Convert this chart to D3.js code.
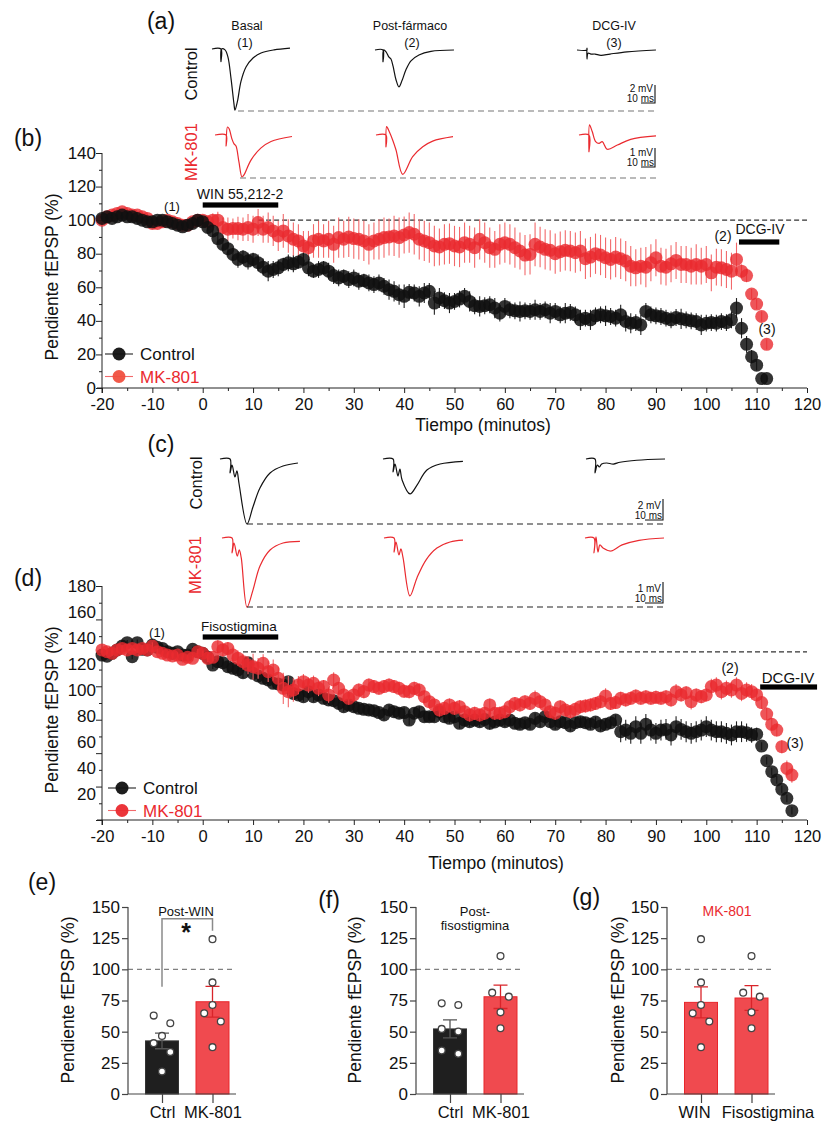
<!DOCTYPE html>
<html>
<head>
<meta charset="utf-8">
<script src="https://cdn.jsdelivr.net/npm/d3@7"></script>
<style>
  body { margin: 0; background: #fff; }
  text { font-family: "Liberation Sans", Arial, Helvetica, sans-serif; fill: #111; }
</style>
</head>
<body>
<svg id="fig" width="827" height="1124"></svg>
<script>
// ---------- data ----------
// example sweeps, [ms, mV] relative to the pre-stimulus baseline
var ctrlA1 = [[0,0],[6.4,0],[6.4,-1.4],[6.8,0],[9.3,-0.1],[11.4,-0.9],[13.6,-3.3],[15.7,-6.1],[16.4,-6.8],[18.2,-5.8],[20.7,-3.6],[24.3,-2.0],[29.3,-1.0],[35,-0.45],[44.3,-0.1],[55.7,0.1]];
var ctrlA2 = [[0,0],[5.7,0],[5.7,-1.3],[6.1,0],[7.9,-0.2],[10,-0.8],[11.4,-1],[12.9,-1.8],[15,-3.3],[17.1,-4.1],[19.3,-3.4],[22.1,-2.2],[25.7,-1.2],[31.4,-0.55],[40,-0.15],[56.4,0]];
var ctrlA3 = [[0,0],[7.1,0],[7.1,0.2],[7.1,-1],[7.9,-0.35],[10,-0.45],[12.9,-0.45],[17.1,-0.6],[23.6,-0.45],[35.7,-0.2],[56.4,0]];
var mkA1 = [[0,0],[7.9,0],[7.9,-0.58],[8.9,0.42],[10,0.34],[12.1,-0.21],[13.6,-0.47],[15,-0.58],[17.1,-1.42],[19.3,-2.21],[20.7,-2.1],[25.7,-1.32],[32.9,-0.68],[40,-0.34],[55,-0.08]];
var mkA2 = [[0,0],[7.1,0],[7.1,-0.62],[7.6,0.44],[9.5,0.17],[11.9,-0.26],[14.3,-0.79],[19.1,-2.07],[26.2,-1.14],[33.4,-0.62],[40.5,-0.32],[55,-0.09]];
var mkA3 = [[0,0],[7.1,0],[7.1,-0.88],[7.5,0.53],[9.5,0.17],[11.9,-0.35],[14.3,-0.44],[16.6,-0.35],[20.2,-0.75],[27.4,-0.53],[36.9,-0.23],[55,-0.05]];
var ctrlC1 = [[0,0],[5.6,0],[5.6,-1.33],[6.7,-0.57],[8.3,-1.71],[9.4,-1.14],[10.6,-2.38],[15,-6.19],[18.3,-4.57],[22.2,-2.76],[27.8,-1.33],[35,-0.67],[43.3,-0.38]];
var ctrlC2 = [[0,0],[5.6,0],[5.6,-1.24],[6.7,-0.48],[8.3,-1.62],[9.4,-0.95],[10.6,-2],[15,-3.33],[18.9,-2.48],[24.4,-1.05],[31.7,-0.48],[44.4,-0.22]];
var ctrlC3 = [[0,0],[5,0],[5,-1.33],[6.3,-0.57],[7.4,-0.76],[8.7,-0.48],[11.5,-0.38],[15.2,-0.48],[18.9,-0.31],[28.2,-0.12],[43.9,0]];
var mkC1 = [[0,0],[5.6,0],[5.6,-0.71],[6.7,-0.24],[8.5,-0.86],[9.6,-0.57],[10.7,-0.95],[13.9,-3.29],[17.2,-2.48],[21.1,-1.33],[26.7,-0.57],[33.9,-0.24],[43.3,-0.16]];
var mkC2 = [[0,0],[5.6,0],[5.6,-0.67],[6.7,-0.19],[8.3,-0.81],[9.4,-0.52],[10.6,-0.95],[14.4,-2.76],[18.3,-1.9],[23.3,-1.05],[29.4,-0.48],[36.7,-0.19],[43.9,-0.1]];
var mkC3 = [[0,0],[5,0],[5,-0.71],[6.1,0.05],[7.2,-0.67],[8.3,-0.33],[10,-0.48],[14.3,-0.62],[20.6,-0.33],[30,-0.11],[43.9,0]];

// (b) WIN 55,212-2 time course, minutes -20..112
var bTime = d3.range(-20, 113);
var bCtrl = [101,102,101,102,103,102,102,101,100,99,99,100,100,99,98,97,96,97,98,100,99,
  95.6,93.6,89,85.6,83,79.6,76.6,78,75.6,76.6,
  74.6,72,69.6,70.6,71.6,73.6,74.6,74,75,76.6,
  71.6,69.6,70.6,71.6,69.6,67,65.6,66.6,64.6,65.6,
  63.6,64,62.6,61.6,62.6,60.6,58.6,57.6,55.6,54.6,
  57,56.6,54.6,56.6,57.6,50.6,53.6,52,50.6,51.6,
  53,54.6,51.6,49,48.6,49,49.6,47.6,44.6,48.6,
  46.6,46,45.6,46,45.6,46.6,45.6,46.6,44.6,45.6,
  43.6,44.6,45,43.6,40.6,41.6,40.6,43,43.6,43,
  42.6,41.6,43.6,39.6,38.6,39,37.6,45.6,43.6,43,
  42.6,41.6,40.6,42,41.2,40.6,40,39.6,37.6,38.6,
  39,38.6,39.6,39,40.6,47.6,35.6,26,18.6,13.6,
  5.6,5.6];
var bCtrlSem = [1.5,1.5,2,1.5,2,1.5,1.5,2,1.5,1.5,2,1.5,1.5,2,2,1.5,2,1.5,1.5,2,1.5,
  2,3,3,4,4,4,5,4,5,4, 5,5,6,5,5,4,5,5,4,4, 5,4,5,4,5,5,5,4,5,5,
  5,4,5,5,5,5,6,6,6,7, 5,5,6,6,5,7,6,5,6,5, 5,5,6,5,6,5,5,6,5,5,
  5,5,6,5,5,6,5,5,6,5, 5,6,5,5,6,5,6,5,5,6, 5,5,6,6,6,5,6,5,5,5,
  5,5,5,5,6,5,5,5,6,5, 5,5,5,5,5,6,6,5,4,3, 2,2];
var bMk = [100,102,103,104,105,104,103,103,102,101,98,98,99,100,99,98,97,97,99,100,100,
  99,100,100,95.6,94.6,95,95,94.6,95.6,94.6,
  98.6,94.6,95.6,93.6,90.6,93.6,90.6,88.6,87.6,84.6,
  83.6,87.6,88.6,87.6,88.6,85.6,89.6,88.6,90,89,
  88.6,87.6,85.6,87.6,88.6,89.6,90,90.6,89.6,91.2,
  92.6,91.6,88.6,87.6,86.6,84.6,84,85.6,86,84.6,
  84,86.6,85.6,83.6,88.6,86.6,83.6,82.6,85.6,86.6,
  85.6,83.6,81.6,79.2,79.6,85.6,84,82.6,82,80,
  81.2,82,81.6,80.6,81.6,77,78,80,79.2,77.6,
  76.6,78,77,75.6,72.6,71.6,72.6,72,74.6,77.6,
  72.6,72,74,76,73.6,73.6,72.6,73.6,72.6,73.6,
  68.6,72,71.6,70.6,69.6,76.6,69.6,67,56,50,
  42.6,26];
var bMkSem = [2,2,2.5,2,2,2.5,2,2,2,2.5,2,2,2,2.5,2,2,2,2,2,2,2,
  3,4,5,6,7,6,7,7,8,8, 8,8,9,9,9,10,10,10,10,9, 10,10,11,10,11,11,12,11,12,12,
  12,12,12,11,12,12,11,12,12,11, 12,12,12,12,12,12,11,12,12,12, 12,12,11,12,12,12,12,11,12,12,
  12,12,11,12,12,13,12,12,12,12, 12,12,12,12,12,12,12,12,12,12, 12,12,12,12,12,11,11,12,11,11,
  11,11,11,11,11,11,11,12,11,11, 11,11,11,11,11,10,4,4,3,3, 3,3];

// (d) physostigmine time course, minutes -20..117
var dTime = d3.range(-20, 118);
var dCtrl = [126.9,126,128.2,130.8,133.8,136.4,125.6,136.4,131.3,130.8,134.6,132.8,132,129.5,128.2,129.5,126.9,126.9,131.3,129.5,128.2,
  125.1,119.2,121.8,121,117.9,116.7,115.4,113.3,121,112.8,
  110.8,109,107.7,105.1,104.6,103.8,106.4,97.4,96.2,94.9,
  98.7,94.9,96.2,93.6,92.3,91.8,89.7,87.2,88.5,87.2,
  85.9,85.1,84.6,84.1,82.6,80.8,84.6,83.3,82.1,82.6,
  76.9,82.1,83.3,79.5,79.5,79.5,83.3,79.5,78.2,79.5,
  74.4,76.9,75.6,76.9,75.6,77.4,74.4,75.4,76.9,75.6,
  76.9,74.4,73.6,74.9,73.6,78.2,75.6,79.5,75.6,73.6,
  75.6,74.9,72.3,74.9,75.6,74.9,73.6,75.4,72.3,73.6,
  74.9,76.9,67.9,69.2,66.7,71.8,66.7,73.6,69.2,66.7,
  69.2,69.7,65.4,71.8,69.7,67.9,66.7,67.9,69.2,71.8,
  69.2,67.9,67.9,66.7,65.4,67.9,67.9,67.2,65.4,66,
  56.9,45.6,37.2,30.8,23.6,16.7,7.2];
var dCtrlSem = [2,2,1.5,2,2.5,2,2,2.5,2,2,2,2,2,2,2,2,2,2,2,2,2,
  3,3,4,3,4,4,4,4,3,4, 4,4,4,4,4,4,4,5,4,4, 4,4,4,4,4,4,4,4,4,4,
  4,4,4,4,4,4,4,4,4,4, 4,4,4,4,4,4,4,4,4,4, 4,5,4,4,4,4,5,4,4,4,
  4,4,4,4,4,4,4,4,4,4, 4,4,4,4,4,4,4,4,4,4, 4,4,8,8,8,8,8,8,8,8,
  8,8,8,8,8,8,8,8,8,8, 8,8,8,8,8,8,8,7,6,5, 3,3,3,3,3,3,3];
var dMk = [130.8,129.5,128.2,130.8,132,130.8,132,130.8,132,130.8,133.8,129.5,128.2,126.9,126.2,126.9,123.6,125.1,124.4,129.5,128.2,
  124.4,125.1,133.3,130.8,132,126.9,124.4,121.8,119.2,117.9,
  116.7,120.5,114.1,115.4,109,101.3,98.7,100,103.8,106.4,
  103.8,105.1,101.3,102.6,96.2,107.7,101.3,96.2,93.6,96.2,
  100,98.7,103.8,102.6,101.3,102.6,103.8,102.6,101.3,99,
  98.7,101.3,100,94.9,91,88.5,84.6,85.9,88.5,85.9,
  87.2,83.3,80.8,82.1,80.8,82.1,88.5,82.1,82.1,83.3,
  87.2,89.7,88.5,91,89.7,93.6,91,88.5,83.3,82.1,
  87.2,84.6,83.3,85.1,87.2,87.7,88.5,89.7,91,95.4,
  89.7,90.3,93.6,92.3,93.6,95.4,93.6,94.9,93.6,94.4,
  93.6,94.9,92.3,98.7,96.2,97.9,91,96.2,94.9,96.2,
  102.6,103.8,98.7,101.3,100,103.8,97.4,100,98.7,96.2,
  90.3,81.5,73.6,69.2,56.4,39.7,34.6];
var dMkSem = [2,2,2,2,2.5,2,2,2,2.5,2,3,2,2,2,2,2,2.5,2,2,2,2,
  3,3,5,5,5,6,6,6,7,10, 8,7,8,8,9,12,12,9,7,6, 6,6,6,5,6,6,5,5,5,5,
  5,5,5,5,5,5,5,5,5,5, 5,5,5,5,5,5,5,5,5,5, 5,5,5,5,5,5,5,5,5,5,
  5,5,5,5,5,6,5,5,5,5, 5,5,5,5,5,5,5,5,5,6, 5,5,5,5,5,5,5,5,5,5,
  5,5,5,6,5,5,6,5,5,5, 6,6,6,6,6,6,6,6,6,5, 5,5,5,5,5,6,6];

// (e)-(g) summaries
var eCats = ['Ctrl', 'MK-801'];
var eMeans = [42.6, 74];
var eSems = [6.3, 12.4];
var eDots = [[56.8, 62.9, 40.8, 46.6, 33.6, 18.1], [124.2, 89.5, 71.4, 64.7, 58.1, 37.6]];
var fCats = ['Ctrl', 'MK-801'];
var fMeans = [52.2, 78];
var fSems = [7.2, 9.4];
var fDots = [[71.4, 72.7, 52.2, 50.1, 34.9, 32.2], [110.6, 81.3, 78.1, 65.5, 52.8]];
var gCats = ['WIN', 'Fisostigmina'];
var gMeans = [73.5, 77];
var gSems = [12.4, 10];
var gDots = [[124.2, 89.5, 71.4, 64.7, 58.1, 37.6], [110.6, 81.3, 78.1, 65.5, 52.8]];

var bYTicks = [0, 20, 40, 60, 80, 100, 120, 140];
var dYLabels = [20, 40, 60, 80, 100, 120, 140, 160, 180];
var xTicks = [-20, -10, 0, 10, 20, 30, 40, 50, 60, 70, 80, 90, 100, 110, 120];
var barYTicks = [0, 25, 50, 75, 100, 125, 150];

// ---------- drawing ----------
var RED = '#ea2a2f';
var svg = d3.select('#fig');

function label(x, y, s, size, opt) {
  opt = opt || {};
  var t = svg.append('text').attr('x', x).attr('y', y).text(s)
    .attr('font-size', size).attr('text-anchor', opt.anchor || 'middle');
  if (opt.color) t.style('fill', opt.color);
  if (opt.weight) t.attr('font-weight', opt.weight);
  if (opt.rotate) t.attr('transform', 'rotate(-90,' + x + ',' + y + ')');
  return t;
}

function trace(pts, x0, y0, pxMs, pxMv, color) {
  var x = d3.scaleLinear().domain([0, 10]).range([x0, x0 + 10 * pxMs]);
  var y = d3.scaleLinear().domain([0, 1]).range([y0, y0 - pxMv]);
  svg.append('path').datum(pts)
    .attr('d', d3.line().x(function(d) { return x(d[0]); }).y(function(d) { return y(d[1]); })
      .curve(d3.curveCatmullRom.alpha(0.5)))
    .attr('fill', 'none').attr('stroke', color).attr('stroke-width', 1.2)
    .attr('stroke-linejoin', 'round');
}

function scalebar(xr, yb, pxMs, pxMv, mv) {
  svg.append('path')
    .attr('d', 'M' + (xr - 10 * pxMs) + ',' + yb + 'H' + xr + 'V' + (yb - mv * pxMv))
    .attr('fill', 'none').attr('stroke', '#111').attr('stroke-width', 1.1);
  label(xr - 2, yb - 11.5, mv + ' mV', 10, {anchor: 'end'});
  label(xr - 1, yb - 1, '10 ms', 10, {anchor: 'end'});
}

function dashed(x1, x2, y, color) {
  svg.append('line').attr('x1', x1).attr('x2', x2).attr('y1', y).attr('y2', y)
    .attr('stroke', color).attr('stroke-width', 1.1).attr('stroke-dasharray', '6,4');
}

// (a) sweeps
label(161, 29, '(a)', 23);
label(247, 30, 'Basal', 12.5);
label(245, 47, '(1)', 12.5);
label(410, 30, 'Post-fármaco', 12.5);
label(412, 47, '(2)', 12.5);
label(614, 30, 'DCG-IV', 12.5);
label(614, 47, '(3)', 12.5);
label(197, 74, 'Control', 16.5, {rotate: true});
label(197, 152, 'MK-801', 16.5, {rotate: true, color: RED});
trace(ctrlA1, 212, 49, 1.4, 9, '#111');
trace(ctrlA2, 375, 50, 1.4, 9, '#111');
trace(ctrlA3, 577, 50, 1.4, 9, '#111');
dashed(238, 657, 111, '#777');
scalebar(655, 103, 1.4, 9, 2);
trace(mkA1, 215, 135, 1.4, 19, RED);
trace(mkA2, 376, 135, 1.4, 19, RED);
trace(mkA3, 579, 135, 1.4, 19, RED);
dashed(240, 657, 178, '#777');
scalebar(655, 167, 1.4, 19, 1);

// (c) sweeps
label(161, 452, '(c)', 23);
label(202, 483, 'Control', 16.5, {rotate: true});
label(201, 565, 'MK-801', 16.5, {rotate: true, color: RED});
trace(ctrlC1, 220, 459, 1.8, 10.5, '#111');
trace(ctrlC2, 383, 459, 1.8, 10.5, '#111');
trace(ctrlC3, 586, 459, 1.8, 10.5, '#111');
dashed(247, 663, 524, '#222');
scalebar(663, 520, 1.8, 10.5, 2);
trace(mkC1, 222, 538, 1.8, 21, RED);
trace(mkC2, 384, 538, 1.8, 21, RED);
trace(mkC3, 585, 538, 1.8, 21, RED);
dashed(247, 663, 607, '#222');
scalebar(663, 603, 1.8, 21, 1);

// time-course panels
function timecourse(p) {
  var g = svg.append('g');
  var x = d3.scaleLinear().domain([-20, 120]).range([102, 807]);
  var y = d3.scaleLinear().domain(p.yDomain).range(p.yRange);
  var y0 = p.yRange[0];

  // y axis: tick marks and labels
  var ya = g.append('g').attr('transform', 'translate(102,0)');
  ya.call(d3.axisLeft(y).tickValues(p.yMajor).tickSize(6).tickSizeOuter(0).tickFormat(''));
  ya.select('.domain').attr('d', 'M0,' + (y0 + 5) + 'V' + p.yRange[1]);
  g.append('g').attr('transform', 'translate(102,0)')
    .call(d3.axisLeft(y).tickValues(p.yMinor).tickSize(3).tickFormat(''))
    .select('.domain').remove();
  g.append('g').attr('transform', 'translate(96,0)')
    .call(d3.axisLeft(y).tickValues(p.yLabels).tickSize(0).tickPadding(0).tickFormat(String))
    .call(function(s) { s.select('.domain').remove(); s.selectAll('text').attr('font-size', 17).attr('dy', '0.3em'); });

  // x axis
  var xa = g.append('g').attr('transform', 'translate(0,' + y0 + ')');
  xa.call(d3.axisBottom(x).tickValues(xTicks).tickSize(5).tickSizeOuter(0).tickPadding(5).tickFormat(String));
  xa.select('.domain').attr('d', 'M97,0H807');
  xa.selectAll('text').attr('font-size', 16.5);
  g.append('g').attr('transform', 'translate(0,' + y0 + ')')
    .call(d3.axisBottom(x).tickValues(xTicks.slice(0, -1).map(function(t) { return t + 5; })).tickSize(3).tickFormat(''))
    .select('.domain').remove();
  g.selectAll('.tick line, .domain').attr('stroke', '#222');

  // reference line and drug bars
  g.append('line').attr('x1', x(p.dashFrom)).attr('x2', x(120)).attr('y1', y(p.dashAt)).attr('y2', y(p.dashAt))
    .attr('stroke', '#333').attr('stroke-width', 1.1).attr('stroke-dasharray', '5,3');
  p.bars.forEach(function(b) {
    g.append('rect').attr('x', x(b.from)).attr('width', x(b.to) - x(b.from))
      .attr('y', b.y - 2.6).attr('height', 5.2).attr('fill', '#000');
  });

  // series
  p.series.forEach(function(s) {
    var rows = s.time.map(function(t, i) { return {t: t, v: s.values[i], e: s.sem[i]}; });
    var sg = g.append('g');
    sg.selectAll('line').data(rows).enter().append('line')
      .attr('x1', function(d) { return x(d.t); }).attr('x2', function(d) { return x(d.t); })
      .attr('y1', function(d) { return y(d.v - d.e); }).attr('y2', function(d) { return y(d.v + d.e); })
      .attr('stroke', s.errColor).attr('stroke-width', 1.1);
    sg.selectAll('circle').data(rows).enter().append('circle')
      .attr('cx', function(d) { return x(d.t); }).attr('cy', function(d) { return y(d.v); })
      .attr('r', 6.5).attr('fill', s.color).attr('fill-opacity', s.opacity);
  });

  // legend
  p.series.slice().sort(function(a, b) { return a.legendRow - b.legendRow; }).forEach(function(s, i) {
    var ly = p.legendY + i * 22.5;
    g.append('line').attr('x1', p.legendX - 14).attr('x2', p.legendX + 14).attr('y1', ly).attr('y2', ly)
      .attr('stroke', s.errColor).attr('stroke-width', 1.1);
    g.append('circle').attr('cx', p.legendX).attr('cy', ly).attr('r', 6.5)
      .attr('fill', s.legendColor).attr('fill-opacity', 0.95);
    var t = g.append('text').attr('x', p.legendX + 21).attr('y', ly + 6).attr('font-size', 17).text(s.name);
    if (s.textColor) t.style('fill', s.textColor);
  });

  return {x: x, y: y};
}

var ctrlStyle = {name: 'Control', color: '#111', opacity: 0.85, errColor: '#222', legendColor: '#111', legendRow: 0};
var mkStyle = {name: 'MK-801', color: RED, opacity: 0.8, errColor: '#f2696b', legendColor: '#f0503f', textColor: RED, legendRow: 1};

label(28, 146, '(b)', 23);
timecourse({
  yDomain: [0, 140], yRange: [388, 153],
  yMajor: bYTicks, yMinor: [10, 30, 50, 70, 90, 110, 130], yLabels: bYTicks,
  dashAt: 100, dashFrom: 11,
  bars: [{from: 0, to: 15, y: 205}, {from: 106.5, to: 114.5, y: 242}],
  legendX: 119, legendY: 354,
  series: [
    Object.assign({time: bTime, values: bMk, sem: bMkSem}, mkStyle),
    Object.assign({time: bTime, values: bCtrl, sem: bCtrlSem}, ctrlStyle)
  ]
});
label(58, 277, 'Pendiente fEPSP (%)', 17.5, {rotate: true});
label(483, 431, 'Tiempo (minutos)', 17.5);
label(172, 211, '(1)', 13);
label(240, 199, 'WIN 55,212-2', 14);
label(723, 241, '(2)', 14);
label(760, 234, 'DCG-IV', 14);
label(767, 334, '(3)', 14);

label(28, 586, '(d)', 23);
var dTicks = d3.range(0, 15).map(function(i) { return i * 180 / 14; });
timecourse({
  yDomain: [0, 180], yRange: [820, 586],
  yMajor: dTicks.filter(function(d, i) { return i % 2 === 0; }),
  yMinor: dTicks.filter(function(d, i) { return i % 2 === 1; }),
  yLabels: dYLabels,
  dashAt: 129.3, dashFrom: 8,
  bars: [{from: 0, to: 15, y: 637}, {from: 110.7, to: 122, y: 687}],
  legendX: 122, legendY: 788,
  series: [
    Object.assign({time: dTime, values: dCtrl, sem: dCtrlSem}, ctrlStyle),
    Object.assign({time: dTime, values: dMk, sem: dMkSem}, mkStyle, {legendColor: RED})
  ]
});
label(58, 710, 'Pendiente fEPSP (%)', 17.5, {rotate: true});
label(496, 869, 'Tiempo (minutos)', 17.5);
label(157, 637, '(1)', 13);
label(239, 631, 'Fisostigmina', 13.5);
label(730, 673, '(2)', 14);
label(788, 683, 'DCG-IV', 15);
label(795, 748, '(3)', 14);

// bar panels
function swarm(vals, y, step) {
  var order = vals.map(function(v, i) { return i; }).sort(function(a, b) { return vals[b] - vals[a]; });
  var off = vals.map(function() { return 0; });
  var rows = [], cur = [];
  order.forEach(function(i) {
    if (cur.length && vals[cur[cur.length - 1]] - vals[i] >= 8) { rows.push(cur); cur = []; }
    cur.push(i);
  });
  if (cur.length) rows.push(cur);
  var layouts = {1: [0], 2: [-1, 1], 3: [0, -1, 1]};
  rows.forEach(function(r) {
    var l = layouts[r.length] || r.map(function(d, k) { return k - (r.length - 1) / 2; });
    r.forEach(function(i, k) { off[i] = l[k] * step; });
  });
  return off;
}

function barPanel(p) {
  var g = svg.append('g');
  var y = d3.scaleLinear().domain([0, 150]).range([1094, 907]);
  var x = d3.scalePoint().domain(p.cats).range([p.ax + 34, p.ax + 84.5]);
  var right = p.ax + 108;

  g.append('line').attr('x1', p.ax).attr('x2', right).attr('y1', y(100)).attr('y2', y(100))
    .attr('stroke', '#808080').attr('stroke-width', 1.4).attr('stroke-dasharray', '5,4');

  p.cats.forEach(function(c, i) {
    var cx = x(c), m = p.means[i], s = p.sems[i];
    g.append('rect').attr('x', cx - 16.5).attr('width', 33).attr('y', y(m)).attr('height', y(0) - y(m))
      .attr('fill', p.fills[i]).attr('stroke', p.strokes[i]).attr('stroke-width', 1);
    g.append('path')
      .attr('d', 'M' + (cx - 7) + ',' + y(m + s) + 'H' + (cx + 7) + 'M' + cx + ',' + y(m + s) + 'V' + y(m - s) +
        'M' + (cx - 7) + ',' + y(m - s) + 'H' + (cx + 7))
      .attr('stroke', p.errs[i]).attr('stroke-width', 1.3).attr('fill', 'none');
    var off = swarm(p.dots[i], y, 8.3);
    g.selectAll(null).data(p.dots[i]).enter().append('circle')
      .attr('cx', function(d, k) { return cx + off[k]; }).attr('cy', function(d) { return y(d); })
      .attr('r', 3.4).attr('fill', '#fff').attr('stroke', '#444').attr('stroke-width', 1.3);
  });

  var ya = g.append('g').attr('transform', 'translate(' + p.ax + ',0)')
    .call(d3.axisLeft(y).tickValues(barYTicks).tickSize(6).tickSizeOuter(0).tickPadding(2));
  ya.selectAll('text').attr('font-size', 17);
  ya.select('.domain').attr('d', 'M0,1094V907');
  var xa = g.append('g').attr('transform', 'translate(0,1094)')
    .call(d3.axisBottom(x).tickSize(9).tickSizeOuter(0).tickPadding(3));
  xa.select('.domain').attr('d', 'M' + p.ax + ',0H' + right);
  xa.selectAll('text').attr('font-size', 16.5).attr('dx', function(d, i) { return p.labelShift ? p.labelShift[i] : 0; });
  g.selectAll('.tick line, .domain').attr('stroke', '#444').attr('stroke-width', 1.2);
  return {x: x, y: y};
}

var ctrlBar = '#1f1f1f', mkBar = '#f04a4f';

label(42, 890, '(e)', 23);
var e = barPanel({ax: 128, cats: eCats, means: eMeans, sems: eSems, dots: eDots,
  fills: [ctrlBar, mkBar], strokes: ['#333', '#e8262b'], errs: ['#555', '#d9242a']});
svg.append('path')
  .attr('d', 'M' + e.x('Ctrl') + ',' + e.y(86) + 'V' + e.y(140.5) + 'H' + e.x('MK-801') + 'V' + e.y(131))
  .attr('fill', 'none').attr('stroke', '#8a8a8a').attr('stroke-width', 1.5);
label(186, 916, 'Post-WIN', 13);
label(186, 941, '*', 25, {weight: 'bold'});
label(74, 1000, 'Pendiente fEPSP (%)', 17.5, {rotate: true});

label(329, 908, '(f)', 23);
barPanel({ax: 416, cats: fCats, means: fMeans, sems: fSems, dots: fDots,
  fills: [ctrlBar, mkBar], strokes: ['#333', '#e8262b'], errs: ['#555', '#d9242a']});
label(475, 916, 'Post-', 13);
label(475, 930, 'fisostigmina', 13);
label(361, 1000, 'Pendiente fEPSP (%)', 17.5, {rotate: true});

label(586, 905, '(g)', 23);
barPanel({ax: 667, cats: gCats, means: gMeans, sems: gSems, dots: gDots,
  fills: [mkBar, mkBar], strokes: ['#e8262b', '#e8262b'], errs: ['#d9242a', '#d9242a'], labelShift: [-7, 16]});
label(727, 916, 'MK-801', 14, {color: RED});
label(624, 1000, 'Pendiente fEPSP (%)', 17.5, {rotate: true});
</script>
</body>
</html>
